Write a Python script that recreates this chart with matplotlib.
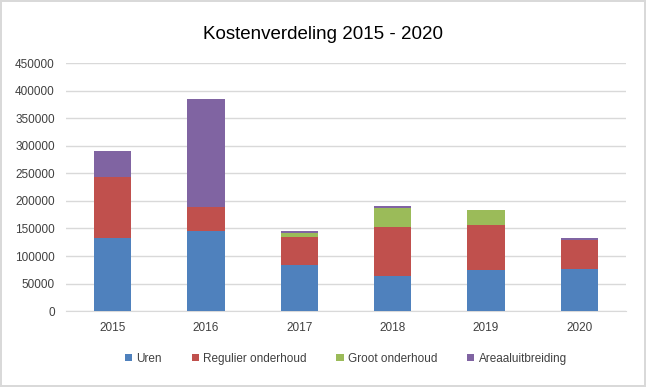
import matplotlib
matplotlib.use("Agg")
from matplotlib import pyplot as plt
import numpy as np

# data
years = ["2015", "2016", "2017", "2018", "2019", "2020"]
uren = [133000, 145000, 83500, 64000, 75000, 76000]
regulier = [110000, 44000, 50500, 88500, 81000, 53500]
groot = [0, 0, 7500, 35000, 27000, 0]
areaal = [47000, 196000, 3500, 3000, 0, 3000]
yticks = [0, 50000, 100000, 150000, 200000, 250000, 300000, 350000, 400000, 450000]

plt.rcParams['font.family'] = ['Liberation Sans', 'DejaVu Sans']

fig = plt.figure(figsize=(6.46, 3.87), dpi=100)
fig.patch.set_edgecolor('#D9D9D9')
fig.patch.set_linewidth(1.5)
ax = fig.add_axes([0.102, 0.196, 0.867, 0.641])

x = np.arange(len(years))
series = [
    (uren, 'Uren', '#4F81BD'),
    (regulier, 'Regulier onderhoud', '#C0504D'),
    (groot, 'Groot onderhoud', '#9BBB59'),
    (areaal, 'Areaaluitbreiding', '#8064A2'),
]
bottom = np.zeros(len(years))
for vals, name, col in series:
    ax.bar(x, vals, width=0.4, bottom=bottom, color=col, label=name, zorder=3)
    bottom += np.array(vals)

ax.set_xlim(-0.5, len(years) - 0.5)
ax.set_ylim(0, 450000)
ax.set_yticks(yticks)
ax.set_yticklabels([str(v) for v in yticks], fontsize=8.5, color='#404040')
ax.set_xticks(x)
ax.set_xticklabels(years, fontsize=8.5, color='#404040')
ax.tick_params(axis='both', length=0, pad=8)
ax.yaxis.grid(True, color='#D9D9D9', linewidth=1, zorder=0)
for s in ['top', 'right', 'left']:
    ax.spines[s].set_visible(False)
ax.spines['bottom'].set_color('#D9D9D9')

fig.text(0.5, 0.912, 'Kostenverdeling 2015 - 2020', ha='center', va='center',
         fontsize=13.5, color='#000000')

ax.legend(loc='upper center', bbox_to_anchor=(0.5, -0.125), ncol=4, frameon=False,
          fontsize=8.5, handlelength=0.6, handleheight=0.6, columnspacing=2.5,
          handletextpad=0.4, labelcolor='#404040')

fig.savefig('out.png', dpi=100)
